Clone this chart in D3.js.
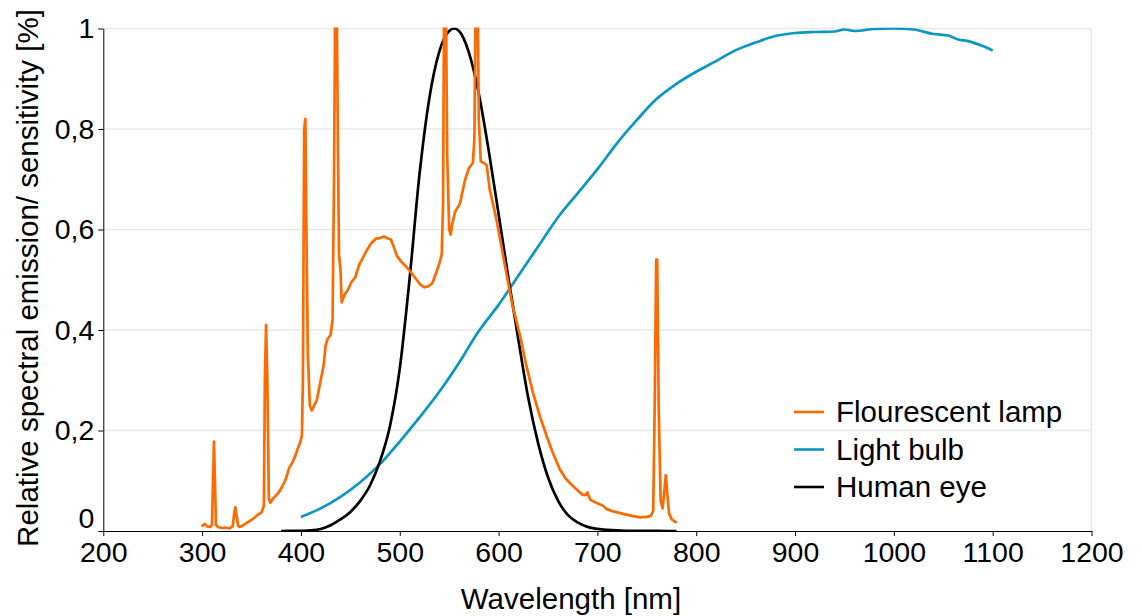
<!DOCTYPE html>
<html>
<head>
<meta charset="utf-8">
<script src="https://cdn.jsdelivr.net/npm/d3@7"></script>
<style>
  body { margin: 0; background: #fff; }
  svg text { font-family: "Liberation Sans", Arial, Helvetica, sans-serif; fill: #000; }
</style>
</head>
<body>
<svg width="1142" height="616"></svg>
<script>
// wavelength ticks and relative value ticks
const xTicks = [200, 300, 400, 500, 600, 700, 800, 900, 1000, 1100, 1200];
const yTicks = [0, 0.2, 0.4, 0.6, 0.8, 1];

const seriesNames = ["Flourescent lamp", "Light bulb", "Human eye"];
const seriesColors = ["#ff6a00", "#0a97c1", "#000000"];

// fluorescent lamp
const lampWl = [299.6, 301, 303, 305, 308, 310, 311, 312, 313, 314, 316, 320, 324, 328, 331, 332.5, 333.6, 335, 336.5, 338,
  342, 346, 350, 355, 360, 362.5, 363.5, 364.7, 366, 367.5, 369, 372, 377, 381, 385, 388, 391, 394, 396, 399,
  401, 402, 403.3, 404.5, 405.5, 407, 409, 411, 416, 420, 423, 425, 427, 430, 432, 433.5, 434.8, 436, 437.5, 438.5,
  440, 441.3, 444, 447, 451, 455, 459, 463, 467, 471, 476, 480, 484, 488, 491, 494, 497, 501, 507, 512,
  517, 521, 525, 529, 533, 537, 540, 542.5, 543.8, 545, 546.5, 548, 550, 551.6, 553, 556, 561, 566, 570, 574,
  575.5, 577, 578.5, 580, 582, 585, 588, 591, 595, 598, 603, 608, 614, 622, 628, 635, 642, 649, 655, 662,
  668, 676, 681, 685, 688.5, 690, 691.5, 693, 700, 706, 709, 716, 726, 735, 743, 750, 754, 756.5, 758, 759.5,
  760.5, 762, 764, 766, 767.8, 769.2, 770.5, 772.5, 775, 778, 780.4];
const lampRel = [0.009, 0.012, 0.014, 0.009, 0.008, 0.012, 0.1, 0.178, 0.1, 0.012, 0.008, 0.006, 0.007, 0.005, 0.01, 0.035, 0.047, 0.03, 0.01, 0.008,
  0.012, 0.017, 0.022, 0.03, 0.037, 0.05, 0.3, 0.41, 0.3, 0.065, 0.056, 0.065, 0.075, 0.088, 0.105, 0.125, 0.135, 0.148, 0.16, 0.175,
  0.19, 0.3, 0.8, 0.82, 0.6, 0.35, 0.25, 0.24, 0.26, 0.3, 0.33, 0.37, 0.382, 0.39, 0.42, 0.7, 1.1, 1.1, 0.75, 0.55,
  0.52, 0.455, 0.47, 0.478, 0.495, 0.505, 0.53, 0.545, 0.56, 0.572, 0.582, 0.583, 0.586, 0.582, 0.58, 0.565, 0.548, 0.537, 0.525, 0.513,
  0.5, 0.49, 0.485, 0.487, 0.493, 0.515, 0.532, 0.55, 0.65, 1.1, 1.1, 0.75, 0.6, 0.59, 0.61, 0.635, 0.652, 0.698, 0.722, 0.733,
  0.78, 1.1, 1.1, 0.82, 0.735, 0.733, 0.728, 0.68, 0.645, 0.618, 0.565, 0.512, 0.45, 0.386, 0.33, 0.274, 0.227, 0.187, 0.155, 0.123,
  0.104, 0.088, 0.079, 0.072, 0.072, 0.077, 0.068, 0.062, 0.055, 0.05, 0.044, 0.039, 0.034, 0.03, 0.027, 0.028, 0.03, 0.04, 0.25, 0.54,
  0.54, 0.25, 0.06, 0.045, 0.08, 0.111, 0.08, 0.035, 0.024, 0.019, 0.017];

// incandescent bulb
const bulbWl = [400, 420, 440, 460, 480, 500, 520, 540, 560, 580, 600, 620, 640, 660, 680, 700, 720, 740, 760, 780,
  800, 820, 840, 860, 880, 900, 920, 940, 950, 960, 980, 1000, 1020, 1040, 1055, 1065, 1075, 1090, 1100];
const bulbRel = [0.028, 0.045, 0.068, 0.097, 0.133, 0.178, 0.226, 0.277, 0.335, 0.398, 0.45, 0.508, 0.566, 0.624, 0.672, 0.72, 0.772, 0.818, 0.86, 0.89,
  0.914, 0.935, 0.957, 0.972, 0.985, 0.991, 0.993, 0.994, 0.998, 0.995, 0.999, 1.0, 0.998, 0.989, 0.986, 0.978, 0.975, 0.965, 0.956];

// eye sensitivity
const eyeWl = [380, 390, 400, 410, 420, 430, 440, 450, 460, 470, 480, 490, 500, 510, 520, 530, 540, 550, 555, 560,
  570, 580, 590, 600, 610, 620, 630, 640, 650, 660, 670, 680, 690, 700, 710, 720, 730, 740, 760, 780];
const eyeRel = [0.00004, 0.00012, 0.0004, 0.0012, 0.004, 0.0116, 0.023, 0.038, 0.06, 0.091, 0.139, 0.208, 0.323, 0.503, 0.71, 0.862, 0.954, 0.995, 1.0, 0.995,
  0.952, 0.87, 0.757, 0.631, 0.503, 0.381, 0.265, 0.175, 0.107, 0.061, 0.032, 0.017, 0.0082, 0.0041, 0.0021, 0.00105, 0.00052, 0.00025, 0.00006, 0.000015];

const svg = d3.select("svg");
const mLeft = 103.3, mRight = 1091.5, mTop = 28.5, mBottom = 531;
const tickFont = "28.5px";
const titleFont = "29.5px";

const x = d3.scaleLinear().domain([200, 1200]).range([mLeft, mRight]);
const y = d3.scaleLinear().domain([0, 1]).range([mBottom, mTop]);

/*grid and frame*/
svg.append("g").selectAll("line").data(yTicks.filter(d => d > 0)).join("line")
  .attr("x1", mLeft).attr("x2", mRight)
  .attr("y1", d => y(d)).attr("y2", d => y(d))
  .attr("stroke", "#e8e8e8").attr("stroke-width", 1.5);
svg.append("line")
  .attr("x1", mRight).attr("x2", mRight).attr("y1", mTop).attr("y2", mBottom)
  .attr("stroke", "#e8e8e8").attr("stroke-width", 1.5);

/*axes*/
const fmt = d => d === 0 || d === 1 ? String(d) : d3.format(".1f")(d).replace(".", ",");

const xAxis = svg.append("g").attr("transform", `translate(0, ${mBottom})`)
  .call(d3.axisBottom(x).tickValues(xTicks).tickFormat(d3.format("d")).tickSize(5).tickSizeOuter(0).tickPadding(6));
const yAxis = svg.append("g").attr("transform", `translate(${mLeft}, 0)`)
  .call(d3.axisLeft(y).tickValues(yTicks).tickFormat(fmt).tickSize(5).tickSizeOuter(0).tickPadding(4));

[xAxis, yAxis].forEach(a => {
  a.select(".domain").attr("stroke", "#000").attr("stroke-width", 1);
  a.selectAll(".tick line").attr("stroke", "#000");
  a.selectAll(".tick text").style("font-size", tickFont).attr("fill", "#000");
});
yAxis.selectAll(".tick text").filter(d => d === 0).attr("dy", "-0.12em");

/*titles*/
svg.append("text")
  .attr("x", 571).attr("y", 609)
  .attr("text-anchor", "middle").style("font-size", titleFont)
  .text("Wavelength [nm]");
svg.append("text")
  .attr("transform", `translate(38, 278) rotate(-90)`)
  .attr("text-anchor", "middle").style("font-size", titleFont)
  .text("Relative spectral emission/ sensitivity [%]");

/*lines*/
svg.append("clipPath").attr("id", "plot")
  .append("rect").attr("x", mLeft).attr("y", mTop - 1).attr("width", mRight - mLeft).attr("height", mBottom - mTop + 1);

const lineSharp = d3.line().x(d => x(d[0])).y(d => y(d[1]));
const lineSmooth = d3.line().x(d => x(d[0])).y(d => y(d[1])).curve(d3.curveMonotoneX);
const series = [
  d3.zip(lampWl, lampRel),
  d3.zip(bulbWl, bulbRel),
  d3.zip(eyeWl, eyeRel)
];
const gens = [lineSharp, lineSmooth, lineSmooth];
const order = [1, 2, 0];
const plot = svg.append("g").attr("clip-path", "url(#plot)");
order.forEach(i => {
  plot.append("path")
    .attr("d", gens[i](series[i]))
    .attr("fill", "none")
    .attr("stroke", seriesColors[i])
    .attr("stroke-width", 2.7)
    .attr("stroke-linejoin", "round");
});

/*legend*/
const legend = svg.append("g").attr("transform", "translate(794, 412)");
seriesNames.forEach((name, i) => {
  const g = legend.append("g").attr("transform", `translate(0, ${i * 37.5})`);
  g.append("line").attr("x1", 0).attr("x2", 30).attr("stroke", seriesColors[i]).attr("stroke-width", 2.6);
  g.append("text").attr("x", 42).attr("dy", "0.35em").style("font-size", titleFont).text(name);
});
</script>
</body>
</html>
